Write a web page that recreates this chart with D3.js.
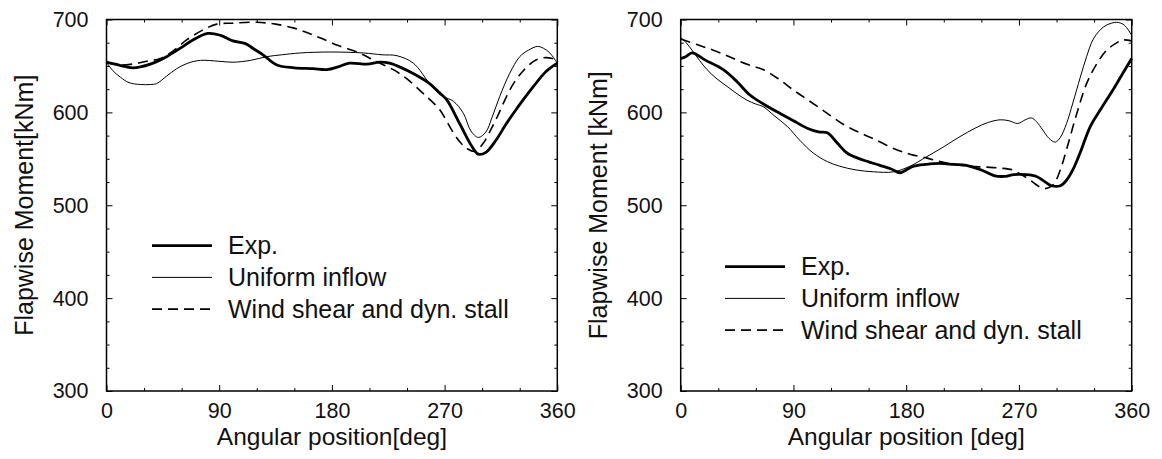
<!DOCTYPE html>
<html>
<head>
<meta charset="utf-8">
<script src="https://cdn.jsdelivr.net/npm/d3@7"></script>
<style>
  body { margin: 0; background: #fff; }
  svg { display: block; font-family: "Liberation Sans", Arial, Helvetica, sans-serif; }
</style>
</head>
<body>
<div id="chart"></div>
<script>
// angular position [deg] vs flapwise moment [kNm]
const leftExp = [[0,654],[10,651],[21,648],[35,652],[48,660],[60,670],[69,678],[81,685],[91,683],[101,677],[111,674],[118,668],[125,662],[136,651],[150,648],[165,647],[176,646],[185,649],[194,653],[208,652],[218,654],[226,653],[234,649],[246,641],[258,631],[266,621],[272,613],[282,588],[292,563],[297,555],[303,557],[311,570],[318,585],[325,599],[333,614],[341,628],[351,644],[360,653]];
const leftUniform = [[0,654],[5,645],[11,638],[18,632],[27,630],[35,630],[40,631],[48,639],[56,647],[65,653],[75,656],[90,655],[101,654],[115,656],[128,660],[140,662],[155,664],[178,665],[205,664],[220,662],[232,661],[245,653],[258,631],[264,622],[269,617],[277,612],[285,599],[291,580],[297,573],[303,579],[308,595],[314,617],[322,642],[330,660],[337,667],[344,671],[349,669],[354,664],[360,653]];
const leftWind = [[0,654],[10,651],[21,652],[32,655],[43,658],[53,666],[64,678],[76,688],[88,695],[100,696],[120,697],[135,695],[149,691],[160,686],[171,680],[185,672],[202,664],[215,655],[229,646],[240,636],[250,624],[258,614],[266,603],[277,578],[283,567],[288,561],[294,558],[301,567],[306,579],[312,595],[318,613],[325,631],[333,645],[341,655],[346,658],[351,659],[356,658],[360,655]];

const rightExp = [[0,658],[4,660],[9,664],[20,656],[34,646],[45,633],[55,619],[66,609],[79,599],[90,591],[101,583],[110,579],[117,578],[125,567],[133,556],[145,549],[159,543],[168,539],[175,535],[180,538],[186,542],[196,544],[207,545],[218,544],[228,543],[240,538],[250,532],[258,531],[266,533],[276,533],[284,531],[290,526],[296,521],[303,521],[308,527],[313,538],[319,557],[327,585],[336,605],[345,624],[352,640],[360,658]];
const rightUniform = [[0,681],[5,674],[9,667],[15,656],[21,646],[29,636],[37,628],[45,620],[53,613],[60,609],[66,606],[75,596],[85,585],[95,570],[106,556],[117,547],[127,542],[140,538],[154,536],[170,536],[183,542],[196,552],[210,563],[223,574],[235,583],[245,589],[255,592],[262,591],[269,588],[275,592],[280,594],[284,590],[289,581],[294,572],[299,568],[303,573],[308,588],[313,610],[319,638],[324,660],[329,678],[335,689],[340,694],[348,697],[354,694],[360,683]];
const rightWind = [[0,679],[13,673],[26,667],[37,661],[47,655],[57,650],[66,646],[78,636],[90,624],[103,612],[117,599],[130,587],[143,578],[155,571],[170,561],[183,555],[196,551],[207,547],[218,544],[230,542],[244,541],[255,540],[265,538],[272,533],[279,527],[285,521],[290,518],[294,519],[298,523],[303,538],[308,560],[316,598],[324,631],[332,652],[340,667],[347,674],[353,678],[360,677]];

const seriesNames = ["Exp.", "Uniform inflow", "Wind shear and dyn. stall"];
const xMajor = [0, 90, 180, 270, 360];
const xMinor = [30, 60, 120, 150, 210, 240, 300, 330];
const yMajor = [300, 400, 500, 600, 700];
const yMinor = [325, 350, 375, 425, 450, 475, 525, 550, 575, 625, 650, 675];

const width = 1162, height = 459;
const plotTop = 19.5, plotBottom = 391;

const styles = [
  { width: 2.8, dash: null },
  { width: 1, dash: null },
  { width: 1.6, dash: "10,6" }
];

const svg = d3.select("#chart").append("svg")
    .attr("width", width)
    .attr("height", height);

svg.append("rect").attr("width", width).attr("height", height).attr("fill", "#fff");

function drawPanel(left, right, series, xTitle, yTitle, legendPos) {
    const x = d3.scaleLinear().domain([0, 360]).range([left, right]);
    const y = d3.scaleLinear().domain([300, 700]).range([plotBottom, plotTop]);
    const g = svg.append("g");

    //ticks on all four sides, pointing inward
    const axes = [
        [d3.axisBottom(x), plotBottom, "x"],
        [d3.axisTop(x), plotTop, "x"],
        [d3.axisLeft(y), left, "y"],
        [d3.axisRight(y), right, "y"]
    ];
    axes.forEach(([ax, pos, dir], i) => {
        const tr = dir === "x" ? `translate(0,${pos})` : `translate(${pos},0)`;
        g.append("g").attr("transform", tr)
            .call(ax.tickValues(dir === "x" ? xMinor : yMinor).tickSizeInner(-3).tickSizeOuter(0).tickFormat(""))
            .call(s => s.select(".domain").remove());
        const a = g.append("g").attr("transform", tr)
            .call(ax.tickValues(dir === "x" ? xMajor : yMajor).tickSizeInner(-6).tickSizeOuter(0)
                .tickFormat(d3.format("d")).tickPadding(i === 0 ? 11.5 : 18));
        a.select(".domain").remove();
        a.attr("font-family", null).attr("font-size", null);
        if (i === 0 || i === 2) {
            a.selectAll("text").style("font-size", "21.5px").attr("fill", "#111");
        } else {
            a.selectAll("text").remove();
        }
    });
    g.selectAll("line").attr("stroke", "#000").attr("stroke-width", 1);

    //frame
    g.append("rect")
        .attr("x", left).attr("y", plotTop)
        .attr("width", right - left).attr("height", plotBottom - plotTop)
        .attr("fill", "none").attr("stroke", "#000").attr("stroke-width", 1.5);

    const line = d3.line()
        .x(d => x(d[0]))
        .y(d => y(d[1]))
        .curve(d3.curveCatmullRom.alpha(0.5));

    series.forEach((data, i) => {
        g.append("path")
            .datum(data)
            .attr("d", line)
            .attr("fill", "none")
            .attr("stroke", "#000")
            .attr("stroke-width", styles[i].width)
            .attr("stroke-dasharray", styles[i].dash);
    });

    //legend
    seriesNames.forEach((name, i) => {
        const ly = legendPos[1] + i * 31.7;
        g.append("line")
            .attr("x1", legendPos[0]).attr("x2", legendPos[0] + 60)
            .attr("y1", ly).attr("y2", ly)
            .attr("stroke", "#000")
            .attr("stroke-width", styles[i].width)
            .attr("stroke-dasharray", styles[i].dash);
        g.append("text")
            .attr("x", legendPos[0] + 76).attr("y", ly)
            .attr("dy", "0.35em")
            .style("font-size", "25px")
            .attr("fill", "#111")
            .text(name);
    });

    //axis titles
    g.append("text")
        .attr("x", (left + right) / 2).attr("y", 445)
        .attr("text-anchor", "middle")
        .style("font-size", "24.5px")
        .attr("fill", "#111")
        .text(xTitle);
    g.append("text")
        .attr("transform", `translate(${left - 74},${(plotTop + plotBottom) / 2}) rotate(-90)`)
        .attr("text-anchor", "middle")
        .style("font-size", "25px")
        .attr("fill", "#111")
        .text(yTitle);
}

drawPanel(106.5, 557.3, [leftExp, leftUniform, leftWind], "Angular position[deg]", "Flapwise Moment[kNm]", [152, 245.7]);
drawPanel(680.7, 1131.7, [rightExp, rightUniform, rightWind], "Angular position [deg]", "Flapwise Moment [kNm]", [725, 266.7]);
</script>
</body>
</html>
